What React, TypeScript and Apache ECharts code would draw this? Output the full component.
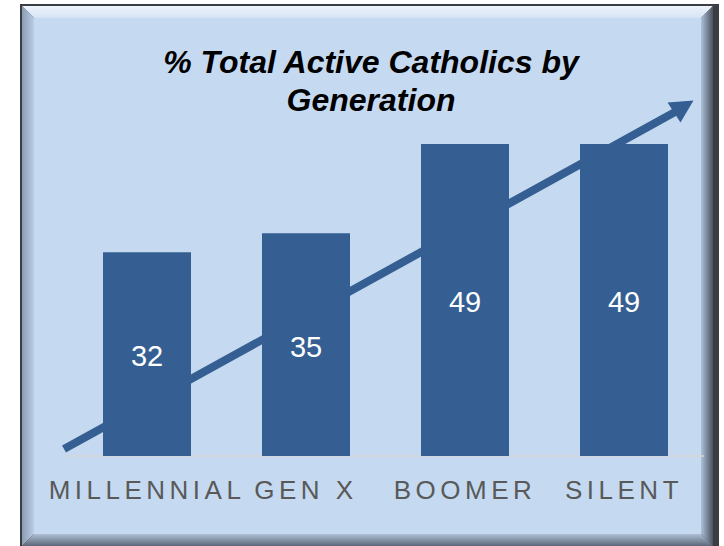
import React, { useEffect, useRef } from "react";
import * as echarts from "echarts";

const categories: string[] = ["MILLENNIAL", "GEN X", "BOOMER", "SILENT"];
const activeShare: number[] = [32, 35, 49, 49];
const titleLines: string[] = ["% Total Active Catholics by", "Generation"];

const FONT = "'Liberation Sans', Arial, sans-serif";
const BAR_COLOR = "#355F92";
const FACE = "#C5D9F1";

export default function App() {
  const ref = useRef<HTMLDivElement>(null);

  useEffect(() => {
    if (!ref.current) return;
    const el = ref.current;
    const chart = echarts.init(el, undefined, { renderer: "svg" });

    const lg = (x1: number, y1: number, x2: number, y2: number, c1: string, c2: string) =>
      new echarts.graphic.LinearGradient(x1, y1, x2, y2, [
        { offset: 0, color: c1 },
        { offset: 1, color: c2 },
      ]);

    const O = { l: 22, t: 6, r: 713, b: 546 };
    const I = { l: 34, t: 18, r: 701, b: 534 };

    chart.setOption({
      animation: false,
      title: {
        text: titleLines.join("\n"),
        left: 366,
        top: 37.5,
        textAlign: "center",
        textStyle: {
          fontFamily: FONT,
          fontSize: 32,
          fontWeight: "bold",
          fontStyle: "italic",
          color: "#000000",
          lineHeight: 38,
        },
      },
      grid: { left: 67.5, right: 20.5, top: 74, bottom: 90, containLabel: false },
      xAxis: {
        type: "category",
        data: categories,
        axisLine: { show: true, lineStyle: { color: "#D6D6D6", width: 1.5 } },
        axisTick: { show: false },
        axisLabel: {
          color: "#595959",
          fontFamily: FONT,
          fontSize: 26,
          margin: 21,
          interval: 0,
        },
      },
      yAxis: {
        type: "value",
        min: 0,
        max: 60,
        show: false,
        splitLine: { show: false },
      },
      series: [
        {
          type: "bar",
          data: activeShare,
          barWidth: 88,
          itemStyle: { color: BAR_COLOR },
          label: {
            show: true,
            position: "inside",
            color: "#FFFFFF",
            fontFamily: FONT,
            fontSize: 29,
            offset: [0, 2],
          },
          z: 2,
        },
      ],
      graphic: [
        {
          type: "rect",
          z: -10,
          silent: true,
          shape: { x: 20, y: 4, width: 699, height: 544 },
          style: { fill: "#3A3D42" },
        },
        {
          type: "polygon",
          z: -9,
          silent: true,
          shape: { points: [[O.l, O.t], [O.r, O.t], [I.r, I.t], [I.l, I.t]] },
          style: { fill: lg(0, 0, 0, 1, "#EDF4FB", "#D4E3F5") },
        },
        {
          type: "polygon",
          z: -9,
          silent: true,
          shape: { points: [[O.l, O.t], [I.l, I.t], [I.l, I.b], [O.l, O.b]] },
          style: { fill: lg(0, 0, 1, 0, "#8C9DB3", "#BACDE6") },
        },
        {
          type: "polygon",
          z: -9,
          silent: true,
          shape: { points: [[O.r, O.t], [O.r, O.b], [I.r, I.b], [I.r, I.t]] },
          style: { fill: lg(0, 0, 1, 0, "#AFC1D8", "#4A525E") },
        },
        {
          type: "polygon",
          z: -9,
          silent: true,
          shape: { points: [[O.l, O.b], [I.l, I.b], [I.r, I.b], [O.r, O.b]] },
          style: { fill: lg(0, 0, 0, 1, "#AEBFD5", "#5D6878") },
        },
        {
          type: "rect",
          z: -8,
          silent: true,
          shape: { x: I.l, y: I.t, width: I.r - I.l, height: I.b - I.t },
          style: { fill: FACE },
        },
        {
          type: "line",
          z: 5,
          silent: true,
          shape: { x1: 64, y1: 449, x2: 675, y2: 112 },
          style: { stroke: BAR_COLOR, lineWidth: 8, lineCap: "butt" },
        },
        {
          type: "polygon",
          z: 5,
          silent: true,
          shape: { points: [[693.5, 100.5], [680.5, 122.5], [667.5, 102.5]] },
          style: { fill: BAR_COLOR },
        },
      ],
    });

    const spaceLabels = () => {
      el.querySelectorAll("text").forEach((t) => {
        if (categories.includes((t.textContent || "").trim())) {
          t.setAttribute("letter-spacing", "4.5");
        }
      });
    };
    spaceLabels();
    chart.on("rendered", spaceLabels);
    const timer = setTimeout(spaceLabels, 50);

    return () => {
      clearTimeout(timer);
      chart.dispose();
    };
  }, []);

  return (
    <div
      ref={ref}
      style={{ position: "fixed", left: 0, top: 0, width: 724, height: 546, background: "#FFFFFF" }}
    />
  );
}
